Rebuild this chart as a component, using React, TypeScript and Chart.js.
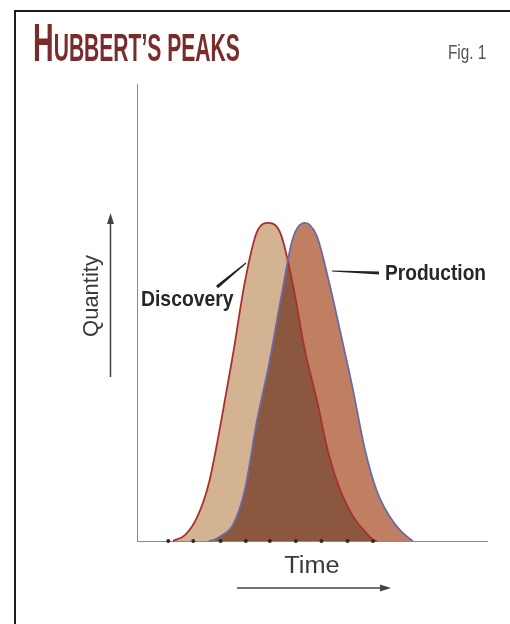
import React, { useEffect, useRef } from "react";
import { Chart, registerables } from "chart.js";

Chart.register(...registerables);

// ---- data ----
const timeGrid = [3, 4, 5, 6, 7, 8, 9, 10, 11, 12, 13, 14, 15, 16, 17, 18, 19, 20, 21, 22, 23];
const discoveryValues = [0, 1.3, 5.1, 12.7, 25.9, 40.7, 56.7, 67.6, 69.6, 67.1, 56.2, 41.8, 30.9, 18.9, 10.8, 5.5, 2.1, 0, 0, 0, 0];
const productionValues = [0, 0, 0, 0, 1.1, 3.5, 11.2, 26.2, 38.5, 52.9, 66.2, 69.6, 66.7, 56.9, 45.3, 33.3, 20.2, 11.0, 5.7, 2.2, 0];
const timeMarks = [2.61, 4.69, 6.97, 9.08, 11.08, 13.25, 15.39, 17.56, 19.69];
const seriesNames = ["Discovery", "Production"];
const xAxisTitle = "Time";
const yAxisTitle = "Quantity";
const titleFirst = "H";
const titleRest = "UBBERT\u2019S PEAKS";
const figLabel = "Fig. 1";
const xRange = [0, 29.2];
const yRange = [0, 100];

// ---- styles ----
const RED = "#a8302e";
const BLUE = "#6a6aa6";
const TAN = "#d4b392";
const SALMON = "#c07f62";
const OVERLAP = "#8c573f";

function wedge(ctx: CanvasRenderingContext2D, x0: number, y0: number, x1: number, y1: number, w0: number, w1: number) {
  const dx = x1 - x0, dy = y1 - y0;
  const len = Math.hypot(dx, dy) || 1;
  const nx = -dy / len, ny = dx / len;
  ctx.beginPath();
  ctx.moveTo(x0 + nx * w0 / 2, y0 + ny * w0 / 2);
  ctx.lineTo(x1 + nx * w1 / 2, y1 + ny * w1 / 2);
  ctx.lineTo(x1 - nx * w1 / 2, y1 - ny * w1 / 2);
  ctx.lineTo(x0 - nx * w0 / 2, y0 - ny * w0 / 2);
  ctx.closePath();
  ctx.fill();
}

const annotations = {
  id: "annotations",
  afterDatasetsDraw(chart: any) {
    const { ctx, chartArea: a } = chart;
    ctx.save();
    // series labels
    ctx.fillStyle = "#262626";
    ctx.textBaseline = "alphabetic";
    ctx.textAlign = "left";
    ctx.font = "bold 22px 'Liberation Sans', Arial, sans-serif";
    ctx.save();
    ctx.translate(141, 306);
    ctx.scale(0.88, 1);
    ctx.fillText(seriesNames[0], 0, 0);
    ctx.restore();
    ctx.save();
    ctx.translate(385, 280);
    ctx.scale(0.87, 1);
    ctx.fillText(seriesNames[1], 0, 0);
    ctx.restore();
    // leaders
    ctx.fillStyle = "#222";
    wedge(ctx, 246, 263, 217, 287, 1, 3.2);
    wedge(ctx, 332, 271, 379, 273, 1, 3.2);

    // axis titles
    ctx.fillStyle = "#3a3a3a";
    ctx.textAlign = "center";
    ctx.save();
    ctx.translate((a.left + a.right) / 2, a.bottom + 32);
    ctx.scale(1.1, 1);
    ctx.font = "23px 'Liberation Sans', Arial, sans-serif";
    ctx.fillText(xAxisTitle, 0, 0);
    ctx.restore();
    ctx.save();
    ctx.font = "22px 'Liberation Sans', Arial, sans-serif";
    ctx.translate(a.left - 39, 296);
    ctx.rotate(-Math.PI / 2);
    ctx.fillText(yAxisTitle, 0, 0);
    ctx.restore();

    // arrows
    ctx.strokeStyle = "#444";
    ctx.fillStyle = "#444";
    ctx.lineWidth = 1.5;
    const ay = a.bottom + 47;
    ctx.beginPath();
    ctx.moveTo(237, ay);
    ctx.lineTo(382, ay);
    ctx.stroke();
    ctx.beginPath();
    ctx.moveTo(391, ay);
    ctx.lineTo(380, ay - 3.5);
    ctx.lineTo(380, ay + 3.5);
    ctx.closePath();
    ctx.fill();
    const ax = a.left - 26.5;
    ctx.beginPath();
    ctx.moveTo(ax, 377);
    ctx.lineTo(ax, 222);
    ctx.stroke();
    ctx.beginPath();
    ctx.moveTo(ax, 213);
    ctx.lineTo(ax - 3.5, 224);
    ctx.lineTo(ax + 3.5, 224);
    ctx.closePath();
    ctx.fill();
    ctx.restore();
  },
};

const hideFlat = (color: string) => (c: any) =>
  c.p0.parsed.y === 0 && c.p1.parsed.y === 0 ? "rgba(0,0,0,0)" : color;

const points = (vals: number[]) => timeGrid.map((t, i) => ({ x: t, y: vals[i] }));

export default function App() {
  const ref = useRef<HTMLCanvasElement>(null);
  useEffect(() => {
    const chart = new Chart(ref.current as HTMLCanvasElement, {
      type: "line",
      data: {
        datasets: [
          {
            label: seriesNames[0] + " area",
            data: points(discoveryValues),
            borderWidth: 0,
            borderColor: "rgba(0,0,0,0)",
            backgroundColor: OVERLAP,
            fill: "origin",
            pointRadius: 0,
            cubicInterpolationMode: "monotone",
            order: 4,
            clip: false,
          } as any,
          {
            label: seriesNames[1] + " area",
            data: points(productionValues),
            borderWidth: 0,
            borderColor: "rgba(0,0,0,0)",
            backgroundColor: SALMON,
            fill: { target: 0, above: SALMON, below: TAN },
            pointRadius: 0,
            cubicInterpolationMode: "monotone",
            order: 3,
            clip: false,
          } as any,
          {
            label: seriesNames[0],
            data: points(discoveryValues),
            borderColor: RED,
            borderWidth: 1.8,
            fill: false,
            pointRadius: 0,
            cubicInterpolationMode: "monotone",
            order: 2,
            clip: false,
            segment: { borderColor: hideFlat(RED) },
          } as any,
          {
            label: seriesNames[1],
            data: points(productionValues),
            borderColor: BLUE,
            borderWidth: 1.8,
            fill: false,
            pointRadius: 0,
            cubicInterpolationMode: "monotone",
            order: 1,
            clip: false,
            segment: { borderColor: hideFlat(BLUE) },
          } as any,
          {
            label: "marks",
            data: timeMarks.map((t) => ({ x: t, y: 0 })),
            showLine: false,
            pointRadius: 2,
            pointBackgroundColor: "#2a2a2a",
            pointBorderWidth: 0,
            order: 0,
            clip: false,
          } as any,
        ],
      },
      options: {
        responsive: false,
        animation: false,
        layout: { padding: { left: 137, right: 23, top: 84, bottom: 83 } },
        plugins: {
          legend: { display: false },
          tooltip: { enabled: false },
          title: { display: false },
          filler: { drawTime: "beforeDatasetsDraw" },
        } as any,
        scales: {
          x: {
            type: "linear",
            min: xRange[0],
            max: xRange[1],
            grid: { display: false, drawTicks: false },
            ticks: { display: false },
            border: { display: true, color: "#8a8a8a", width: 1 },
          },
          y: {
            type: "linear",
            min: yRange[0],
            max: yRange[1],
            grid: { display: false, drawTicks: false },
            ticks: { display: false },
            border: { display: true, color: "#8a8a8a", width: 1 },
          },
        },
      },
      plugins: [annotations],
    });
    return () => chart.destroy();
  }, []);

  return (
    <div style={{ position: "absolute", left: 0, top: 0, width: 510, height: 624, overflow: "hidden", background: "#fff" }}>
      <div
        style={{
          position: "absolute",
          left: 14,
          top: 10,
          width: 600,
          height: 700,
          borderLeft: "2px solid #1c1c1c",
          borderTop: "2px solid #1c1c1c",
        }}
      />
      <canvas ref={ref} width={510} height={624} style={{ position: "absolute", left: 0, top: 0, display: "block" }} />
      <div
        style={{
          position: "absolute",
          left: 33,
          top: 16,
          fontFamily: "'Liberation Sans', Arial, sans-serif",
          fontWeight: "bold",
          fontSize: 53,
          lineHeight: 1,
          color: "#7a2b2b",
          whiteSpace: "nowrap",
          transform: "scaleX(0.54)",
          transformOrigin: "left top",
        }}
      >
        <span>{titleFirst}</span>
        <span style={{ fontSize: 39 }}>{titleRest}</span>
      </div>
      <div
        style={{
          position: "absolute",
          left: 448,
          top: 40.5,
          fontFamily: "'Liberation Sans', Arial, sans-serif",
          fontSize: 21,
          lineHeight: 1,
          color: "#555",
          whiteSpace: "nowrap",
          transform: "scaleX(0.73)",
          transformOrigin: "left top",
        }}
      >
        {figLabel}
      </div>
    </div>
  );
}
